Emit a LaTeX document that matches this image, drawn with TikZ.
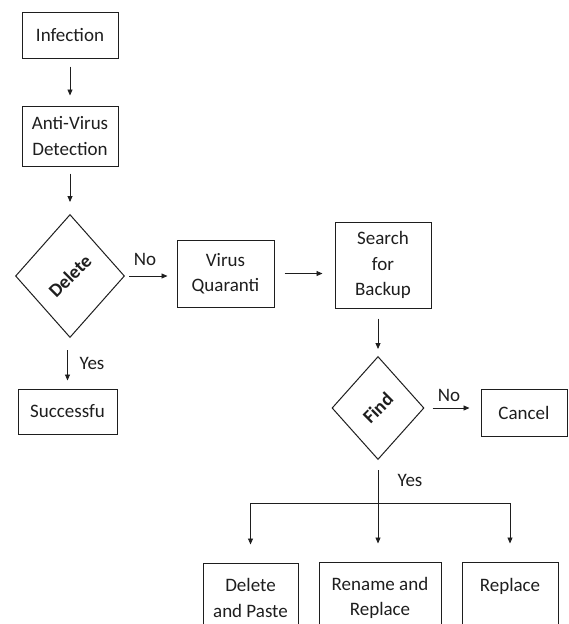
\documentclass[tikz,border=0pt]{standalone}
\usepackage{fontspec}
\setmainfont{Carlito}
\usetikzlibrary{arrows.meta,shapes.geometric}
\definecolor{ink}{RGB}{30,30,30}
\tikzset{
  >={Triangle[length=6pt,width=5pt]},
  box/.style={draw=ink,line width=1pt,minimum width=#1,align=center,inner sep=2pt,
    font=\fontsize{19}{25.5}\selectfont,text=ink},
  box/.default=96pt,
  dia/.style={diamond,draw=ink,line width=1pt,inner sep=0pt},
  dtext/.style={rotate=45,font=\fontsize{19}{22}\selectfont\bfseries,text=ink},
  lbl/.style={font=\fontsize{19}{22}\selectfont,text=ink},
  flow/.style={->,draw=ink,line width=0.9pt},
}
\begin{document}
\begin{tikzpicture}[x=1pt,y=-1pt]
  \useasboundingbox (0,0) rectangle (568,624);
  \clip (0,0) rectangle (568,624);
  % left column
  \node[box,minimum height=46pt] (inf) at (70,35) {Infection};
  \node[box,minimum height=60pt] (avd) at (70,136) {Anti-Virus\\Detection};
  \node[dia,minimum width=109pt,minimum height=123pt] (del) at (70,276) {};
  \node[dtext] (delt) at (del.center) {Delete};
  \node[box=99pt,minimum height=45pt] (su) at (67.5,411.5) {Successfu};
  % middle and right
  \node[box=97pt,minimum height=67pt] (vq) at (225.5,273.5) {Virus\\Quaranti};
  \node[box,minimum height=86pt] (sb) at (383,265) {Search\\for\\Backup};
  \node[dia,minimum width=92pt,minimum height=103pt] (fd) at (378,408) {};
  \node[dtext] (fdt) at (fd.center) {Find};
  \node[box=86pt,minimum height=47pt] (cn) at (524,412.5) {Cancel};
  % bottom row
  \node[box=95pt,minimum height=70pt] (dp) at (250.5,598) {Delete\\and Paste};
  \node[box=122pt,minimum height=72pt] (rr) at (380,598) {Rename and\\Replace};
  \node[box,minimum height=72pt] (rp) at (510,598) {Replace\\\mbox{}};
  % connectors
  \draw[flow,shorten <=8pt,shorten >=10pt] (inf) -- (avd);
  \draw[flow,shorten <=7pt,shorten >=12pt] (avd) -- (del);
  \draw[flow,shorten <=4pt,shorten >=9pt] (del.east) -- (del.east -| vq.west);
  \draw[flow,shorten <=12pt,shorten >=8pt] (su.north |- del.south) -- (su.north);
  \draw[flow,shorten <=10pt,shorten >=12pt] (vq.east) -- (vq.east -| sb.west);
  \draw[flow,shorten <=10pt,shorten >=7pt] (fd.north |- sb.south) -- (fd.north);
  \draw[flow,shorten <=8pt,shorten >=11pt] (fd.east) -- (fd.east -| cn.west);
  \coordinate (br) at (fd.south |- 0,503);
  \draw[flow,shorten <=10pt,shorten >=18pt] (fd.south) -- (fd.south |- rr.north);
  \draw[flow,shorten >=18pt] (br) -| (dp.north);
  \draw[flow,shorten >=18pt] (br) -| (rp.north);
  % labels
  \node[lbl] (no1) at (145,259) {No};
  \node[lbl] (yes1) at (92,363) {Yes};
  \node[lbl] (no2) at (449,395) {No};
  \node[lbl] (yes2) at (410,480) {Yes};
\end{tikzpicture}
\end{document}
